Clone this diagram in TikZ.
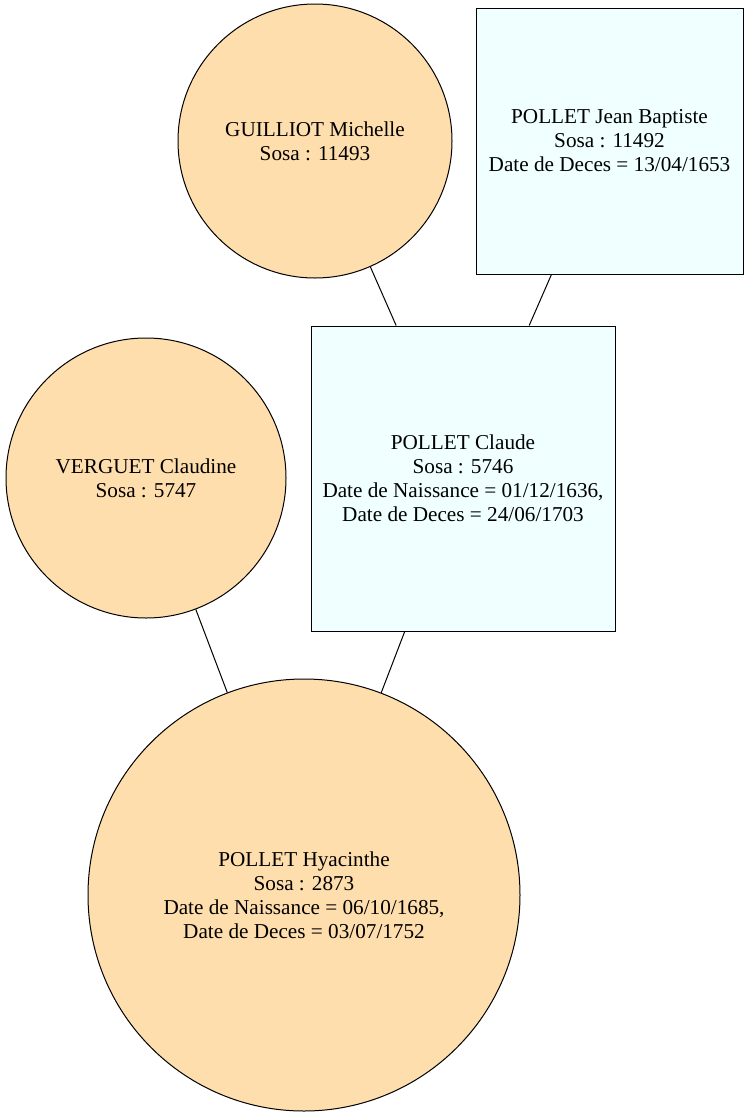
\documentclass[tikz,border=0pt]{standalone}
\usepackage{fontspec}
\setmainfont{Liberation Serif}
\definecolor{peach}{HTML}{FFDEAD}
\definecolor{azurec}{HTML}{F0FFFF}
\begin{document}
\begin{tikzpicture}[x=0.75pt,y=-0.75pt,
  every node/.style={font=\fontsize{15.9}{18}\selectfont, align=center, inner sep=0pt},
  person/.style={draw=black, fill=peach, circle, line width=0.75pt},
  personbox/.style={draw=black, fill=azurec, rectangle, line width=0.75pt},
  link/.style={draw=black, line width=0.75pt}]
\useasboundingbox (0,0) rectangle (748,1117);
\node[person, minimum size=274*0.75pt] (guilliot) at (315,141) {GUILLIOT Michelle\\Sosa : 11493};
\node[personbox, minimum width=267*0.75pt, minimum height=266*0.75pt] (jb) at (609.5,141) {POLLET Jean Baptiste\\Sosa : 11492\\Date de Deces = 13/04/1653};
\node[person, minimum size=280*0.75pt] (verguet) at (146,478) {VERGUET Claudine\\Sosa : 5747};
\node[personbox, minimum width=304*0.75pt, minimum height=305*0.75pt] (claude) at (463,478.5) {POLLET Claude\\Sosa : 5746\\Date de Naissance = 01/12/1636,\\Date de Deces = 24/06/1703};
\node[person, minimum size=432*0.75pt] (hyacinthe) at (304,895) {POLLET Hyacinthe\\Sosa : 2873\\Date de Naissance = 06/10/1685,\\Date de Deces = 03/07/1752};
\draw[link] (guilliot) -- (claude);
\draw[link] (jb) -- (claude);
\draw[link] (verguet) -- (hyacinthe);
\draw[link] (claude) -- (hyacinthe);
\end{tikzpicture}
\end{document}
